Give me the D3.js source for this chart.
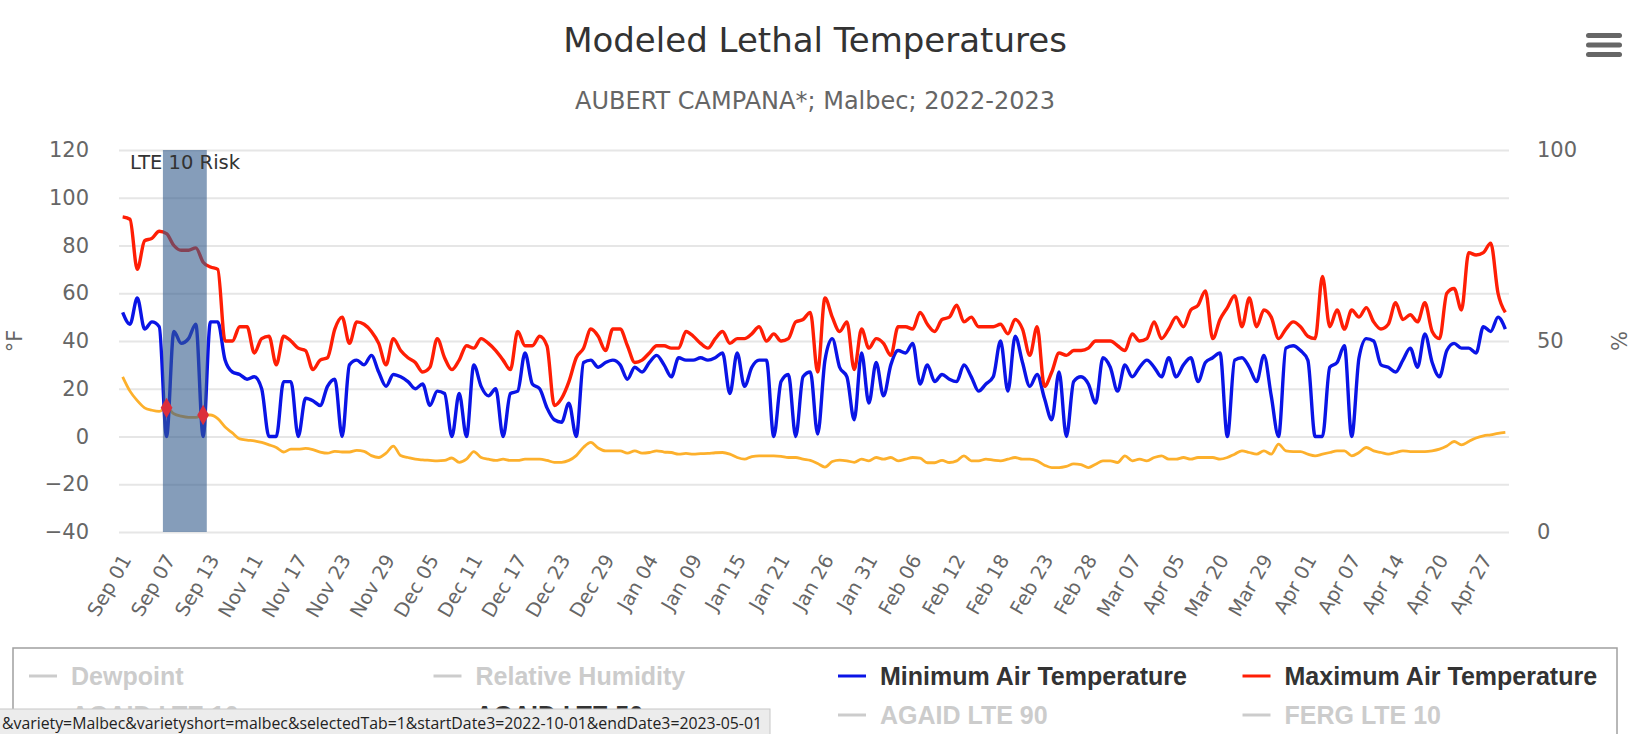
<!DOCTYPE html>
<html>
<head>
<meta charset="utf-8">
<script src="https://cdn.jsdelivr.net/npm/d3@7"></script>
<style>
  body { margin: 0; background: #fff; }
  svg { display: block; font-family: "DejaVu Sans", sans-serif; }
</style>
</head>
<body>
<div id="chart"></div>
<script>
// tick labels shown every 6th category on the x axis
const tickLabels = ["Sep 01", "Sep 07", "Sep 13", "Nov 11", "Nov 17", "Nov 23", "Nov 29", "Dec 05",
    "Dec 11", "Dec 17", "Dec 23", "Dec 29", "Jan 04", "Jan 09", "Jan 15", "Jan 21", "Jan 26", "Jan 31",
    "Feb 06", "Feb 12", "Feb 18", "Feb 23", "Feb 28", "Mar 07", "Apr 05", "Mar 20", "Mar 29", "Apr 01",
    "Apr 07", "Apr 14", "Apr 20", "Apr 27"];
const tickEvery = 6;

const minAirTemp = [52, 47, 58, 45, 48, 46, 0, 44, 39, 41, 47, 0, 48, 48, 32, 27, 26, 24, 25, 20,
    0, 0, 23, 23, 0, 16, 15, 13, 21, 24, 0, 30, 32, 30, 34, 27, 21, 26, 25, 23,
    20, 22, 13, 19, 18, 0, 18, 0, 30, 21, 17, 20, 0, 18, 19, 35, 22, 20, 12, 7,
    6, 14, 0, 31, 32, 29, 31, 32, 30, 24, 29, 27, 31, 34, 30, 25, 33, 32, 32, 33,
    32, 33, 35, 18, 35, 21, 29, 32, 32, 0, 23, 26, 0, 25, 27, 1, 32, 41, 29, 25,
    7, 35, 14, 31, 17, 30, 36, 35, 39, 22, 30, 23, 26, 24, 23, 30, 25, 19, 22, 25,
    40, 19, 42, 31, 21, 26, 16, 7, 27, 0, 23, 25, 22, 14, 33, 29, 19, 30, 25, 29,
    32, 29, 25, 33, 25, 30, 33, 23, 31, 33, 35, 0, 32, 33, 29, 23, 34, 17, 0, 37,
    38, 36, 32, 0, 0, 29, 31, 38, 0, 33, 41, 40, 30, 29, 27, 32, 37, 29, 43, 31,
    25, 36, 39, 37, 37, 35, 46, 44, 50, 45];

const maxAirTemp = [92, 91, 70, 82, 83, 86, 85, 80, 78, 78, 79, 73, 71, 70, 40, 40, 46, 46, 35, 41,
    42, 30, 42, 40, 37, 36, 28, 32, 33, 45, 50, 39, 48, 47, 44, 39, 30, 41, 36, 33,
    31, 27, 29, 41, 33, 28, 32, 38, 37, 41, 39, 36, 32, 28, 44, 38, 38, 42, 38, 13,
    16, 23, 33, 37, 45, 42, 36, 45, 45, 38, 31, 32, 35, 38, 38, 37, 37, 44, 42, 39,
    37, 41, 44, 39, 41, 41, 43, 46, 40, 43, 40, 41, 48, 49, 52, 27, 58, 50, 44, 48,
    28, 45, 37, 41, 39, 34, 46, 46, 45, 52, 47, 44, 49, 50, 55, 48, 50, 46, 46, 46,
    47, 43, 49, 45, 34, 46, 21, 27, 35, 34, 36, 36, 37, 40, 40, 40, 38, 36, 43, 40,
    41, 48, 41, 45, 50, 46, 53, 55, 61, 41, 49, 54, 59, 46, 58, 46, 53, 50, 41, 45,
    48, 46, 42, 41, 67, 46, 53, 45, 53, 50, 54, 48, 45, 47, 56, 49, 51, 48, 56, 44,
    41, 60, 62, 53, 77, 76, 77, 81, 60, 52];

const agaidLte50 = [25, 19, 15, 12, 11, 10.5, 12, 9.5, 8.5, 8, 8, 9, 9, 7.5, 4, 1.5, -1, -1.5, -1.8, -2.5,
    -3.5, -4.6, -6.5, -5.3, -5.3, -5, -5.5, -6.5, -7, -6.2, -6.5, -6.5, -5.8, -6.2, -8, -8.8, -7, -4, -8, -8.8,
    -9.5, -9.8, -10, -10.2, -10, -9, -10.8, -9.5, -6.3, -8.8, -9.5, -10, -9.5, -10, -10, -9.5, -9.5, -9.5, -10, -10.8,
    -10.8, -10, -8, -4.5, -2.5, -4.8, -6, -6, -6, -7, -6, -7, -6.7, -6, -6.5, -6.7, -7.4, -7.1, -7.4, -7.2,
    -7.1, -6.8, -6.7, -7.4, -8.8, -9.5, -8.4, -8.1, -8.1, -8.1, -8.3, -8.8, -8.8, -9.5, -10, -11.3, -12.8, -10.5, -9.9, -10.2,
    -10.8, -9.5, -10.2, -8.8, -9.5, -8.8, -10.2, -9.5, -8.8, -9.1, -11, -11, -10, -10.9, -10.2, -8.1, -10.2, -10.2, -9.5, -9.9,
    -10.2, -9.5, -8.8, -9.5, -9.5, -10.2, -12, -13, -13, -12.5, -11.5, -11.8, -13, -11.6, -10.2, -10.2, -10.9, -8.1, -10.2, -9.5,
    -10.2, -8.8, -8.1, -9.5, -9.5, -8.8, -9.5, -8.8, -8.8, -8.8, -9.5, -8.8, -7.4, -6, -6.7, -7.4, -6, -7.4, -3.2, -6,
    -6.3, -6.3, -7.4, -8.1, -7.4, -6.7, -6, -6, -8.1, -6.7, -4.6, -6, -6.7, -7.4, -6.7, -6, -6.3, -6.3, -6.3, -6,
    -5.3, -4, -2.1, -3.5, -2.1, -0.6, 0.3, 0.7, 1.3, 1.7];

const tempTicks = [-40, -20, 0, 20, 40, 60, 80, 100, 120];
const humidityTicks = [0, 50, 100];

const legendNames = ["Dewpoint", "Relative Humidity", "Minimum Air Temperature", "Maximum Air Temperature",
    "AGAID LTE 10", "AGAID LTE 50", "AGAID LTE 90", "FERG LTE 10"];

const statusUrl = "&variety=Malbec&varietyshort=malbec&selectedTab=1&startDate3=2022-10-01&endDate3=2023-05-01";

class LethalChart {

    constructor() {
        this.width = 1646;
        this.height = 734;
        this.plot = { left: 119, right: 1509, top: 150, bottom: 532 };

        this.colors = {
            "Minimum Air Temperature": "#0a14e6",
            "Maximum Air Temperature": "#ff1e05",
            "AGAID LTE 50": "#fdb02c"
        };

        this.svg = d3.select("#chart").append("svg")
            .attr("width", this.width)
            .attr("height", this.height);

        this.setScales();
    }

    setScales() {
        this.x = d3.scalePoint()
            .domain(d3.range(minAirTemp.length))
            .range([this.plot.left, this.plot.right])
            .padding(0.5);
        this.y = d3.scaleLinear().domain([-40, 120]).range([this.plot.bottom, this.plot.top]);
        this.yRight = d3.scaleLinear().domain([0, 100]).range([this.plot.bottom, this.plot.top]);
    }

    drawTitles() {
        this.svg.append("text")
            .attr("x", 815).attr("y", 52)
            .attr("text-anchor", "middle")
            .style("font-size", "34px").style("fill", "#333")
            .text("Modeled Lethal Temperatures");

        this.svg.append("text")
            .attr("x", 815).attr("y", 109)
            .attr("text-anchor", "middle")
            .style("font-size", "24px").style("fill", "#666")
            .text("AUBERT CAMPANA*; Malbec; 2022-2023");

        // export menu icon
        let menu = this.svg.append("g").attr("transform", "translate(1586, 33)");
        [0, 9.5, 19].forEach(dy => {
            menu.append("rect")
                .attr("x", 0).attr("y", dy)
                .attr("width", 36).attr("height", 5).attr("rx", 2.5)
                .style("fill", "#666");
        });
    }

    drawAxes() {
        let plotWidth = this.plot.right - this.plot.left;

        let yAxis = this.svg.append("g")
            .attr("transform", `translate(${this.plot.left}, 0)`)
            .call(d3.axisLeft(this.y).tickValues(tempTicks).tickSize(-plotWidth).tickPadding(30));
        yAxis.select(".domain").remove();
        yAxis.selectAll("line").style("stroke", "#e6e6e6").style("stroke-width", 2);
        yAxis.selectAll("text").style("font-size", "21px").style("fill", "#666")
            .style("font-family", "DejaVu Sans");

        let yAxisRight = this.svg.append("g")
            .attr("transform", `translate(${this.plot.right}, 0)`)
            .call(d3.axisRight(this.yRight).tickValues(humidityTicks).tickSize(0).tickPadding(28));
        yAxisRight.select(".domain").remove();
        yAxisRight.selectAll("text").style("font-size", "21px").style("fill", "#666")
            .style("font-family", "DejaVu Sans");

        let xAxis = this.svg.append("g")
            .attr("transform", `translate(0, ${this.plot.bottom})`)
            .call(d3.axisBottom(this.x)
                .tickValues(d3.range(0, minAirTemp.length, tickEvery))
                .tickFormat(i => tickLabels[i / tickEvery])
                .tickSize(0));
        xAxis.select(".domain").remove();
        xAxis.selectAll("text")
            .attr("x", 0).attr("y", 0).attr("dy", "0.35em")
            .attr("transform", "translate(3, 24) rotate(-60)")
            .attr("text-anchor", "end")
            .style("font-size", "19.5px").style("fill", "#666")
            .style("font-family", "DejaVu Sans");

        this.svg.append("text")
            .attr("transform", `translate(22, ${(this.plot.top + this.plot.bottom) / 2}) rotate(-90)`)
            .attr("text-anchor", "middle")
            .style("font-size", "21px").style("fill", "#666")
            .text("°F");

        this.svg.append("text")
            .attr("transform", `translate(1611, ${(this.plot.top + this.plot.bottom) / 2}) rotate(90)`)
            .attr("text-anchor", "middle")
            .style("font-size", "21px").style("fill", "#666")
            .text("%");
    }

    drawSeries() {
        let line = d3.line()
            .x((d, i) => this.x(i))
            .y(d => this.y(d))
            .curve(d3.curveMonotoneX);

        let series = [
            { values: agaidLte50, color: this.colors["AGAID LTE 50"], width: 2.8 },
            { values: minAirTemp, color: this.colors["Minimum Air Temperature"], width: 3.4 },
            { values: maxAirTemp, color: this.colors["Maximum Air Temperature"], width: 3.4 }
        ];

        this.svg.append("g").selectAll("path")
            .data(series)
            .enter()
            .append("path")
            .attr("d", d => line(d.values))
            .style("fill", "none")
            .style("stroke", d => d.color)
            .style("stroke-width", d => d.width)
            .style("stroke-linejoin", "round");

        // days where the minimum drops below the LTE 50 line
        let risk = d3.range(minAirTemp.length).filter(i => minAirTemp[i] < agaidLte50[i]);
        let step = this.x.step();
        let bandFrom = this.x(d3.min(risk)) - step * 0.5;
        let bandTo = this.x(d3.max(risk)) + step * 0.5;

        this.svg.append("rect")
            .attr("x", bandFrom).attr("y", this.plot.top)
            .attr("width", bandTo - bandFrom)
            .attr("height", this.plot.bottom - this.plot.top)
            .style("fill", "rgba(51, 92, 140, 0.6)");

        this.svg.append("g").selectAll("path")
            .data(risk)
            .enter()
            .append("path")
            .attr("transform", i => `translate(${this.x(i)}, ${this.y(agaidLte50[i])})`)
            .attr("d", d3.symbol(d3.symbolDiamond, 120))
            .style("fill", "#dc2f3c");

        this.svg.append("text")
            .attr("x", 130).attr("y", 169)
            .style("font-size", "19.5px").style("fill", "#333")
            .text("LTE 10 Risk");
    }

    drawLegend() {
        let legend = this.svg.append("g");

        legend.append("rect")
            .attr("x", 13).attr("y", 648)
            .attr("width", 1604).attr("height", 120)
            .style("fill", "#fff")
            .style("stroke", "#a0a0a0")
            .style("stroke-width", 1.5);

        let items = legend.selectAll("g.item")
            .data(legendNames)
            .enter()
            .append("g")
            .attr("class", "item")
            .attr("transform", (d, i) => `translate(${29 + (i % 4) * 404.5}, ${i < 4 ? 676 : 715})`);

        items.append("line")
            .attr("x1", 0).attr("x2", 28)
            .attr("y1", 0).attr("y2", 0)
            .style("stroke", d => this.colors[d] || "#ccc")
            .style("stroke-width", 3);

        items.append("text")
            .attr("x", 42).attr("y", 0).attr("dy", "0.36em")
            .style("font-family", "'Liberation Sans', Arial, sans-serif")
            .style("font-weight", "bold")
            .style("font-size", "25px")
            .style("fill", d => this.colors[d] ? "#333" : "#ccc")
            .text(d => d);
    }

    drawStatusBar() {
        let bar = this.svg.append("g");
        bar.append("rect")
            .attr("x", -2).attr("y", 709)
            .attr("width", 772).attr("height", 30)
            .style("fill", "#ececec")
            .style("stroke", "#c8c8c8");
        bar.append("text")
            .attr("x", 2).attr("y", 729)
            .attr("textLength", 760)
            .attr("lengthAdjust", "spacingAndGlyphs")
            .style("font-family", "'Open Sans', sans-serif")
            .style("font-size", "17px").style("fill", "#222")
            .text(statusUrl);
    }

    update() {
        this.drawTitles();
        this.drawAxes();
        this.drawSeries();
        this.drawLegend();
        this.drawStatusBar();
    }
}

let chart = new LethalChart();
chart.update();
</script>
</body>
</html>
